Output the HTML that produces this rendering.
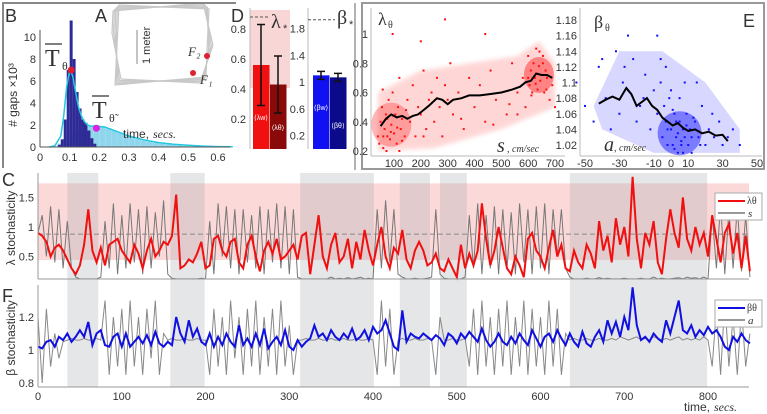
<!DOCTYPE html>
<html><head><meta charset="utf-8"><style>
html,body{margin:0;padding:0;background:#fff;}
svg{display:block;font-family:"Liberation Sans",sans-serif;}
text{fill:#333;}
.tk{font-size:11px;}
.ser{font-family:"Liberation Serif",serif;}
</style></head><body>
<svg id="fig" width="767" height="414" viewBox="0 0 767 414">
<g id="gB"></g>
<g id="gA"></g>
<g id="gD"></g>
<g id="gE"></g>
<g id="gC"></g>
<g id="gF"></g>
</svg>
<script>
// ---------- DATA ----------
const darkBins = [0.06,0.07,0.08,0.09,0.10,0.11,0.12,0.13,0.14,0.15,0.16,0.17,0.18];
const darkCounts = [0.2,0.7,2.5,7,11.5,8,5,3.5,2.5,2.2,1.5,0.8,0.3];
const lightBins = [0.04,0.06,0.08,0.10,0.12,0.14,0.16,0.18,0.20,0.22,0.24,0.26,0.28,0.30,0.32,0.34,0.36,0.38,0.40,0.42,0.44,0.46,0.48,0.50,0.52,0.54,0.56,0.58,0.60,0.62];
const lightCounts = [0.05,0.3,0.8,1.2,1.5,1.7,1.9,2.0,1.9,1.7,1.5,1.3,1.1,0.9,0.75,0.6,0.5,0.4,0.3,0.25,0.2,0.15,0.1,0.08,0.05,0.04,0.03,0.02,0.02,0.01];
const fitT = [0.03,0.05,0.07,0.08,0.09,0.10,0.11,0.12,0.13,0.14,0.15,0.16,0.17,0.19,0.22,0.26,0.30,0.35,0.40,0.45,0.50,0.55,0.60,0.65];
const fitV = [0,0.1,1,2.8,5.5,7,6.5,5,3.6,2.8,2.3,2.0,1.9,1.9,1.8,1.4,1.0,0.65,0.4,0.25,0.15,0.08,0.04,0.02];

const dLambdaLabels = ["⟨λ_w⟩","⟨λ_θ⟩"];
const dLambdaVals = [0.56,0.43];
const dLambdaErr = [0.27,0.19];
const dBetaVals = [1.1,1.07];
const dBetaErr = [0.06,0.06];
const lambdaStar = 0.88;
const betaStar = 1.93;

const redS = [40,45,50,55,60,65,70,75,80,85,90,95,100,105,110,115,120,125,130,140,150,160,170,180,190,200,210,220,230,240,250,260,270,280,290,300,310,320,340,360,380,400,420,440,460,480,500,520,540,560,580,590,600,605,610,615,620,625,630,635,640,645,650,655,660,665,670,680,690,700,95,200,290,440,120,60,75,88,130,145,58,72,98,112,600,612,628,642,655,668,350,470,530,560,210];
const redL = [0.3,0.25,0.4,0.5,0.22,0.35,0.45,0.3,0.55,0.28,0.38,0.6,0.32,0.45,0.25,0.5,0.7,0.35,0.42,0.3,0.55,0.4,0.65,0.3,0.5,0.45,0.75,0.35,0.55,0.6,0.4,0.7,0.5,0.3,0.65,0.55,0.8,0.45,0.6,0.35,0.7,0.5,0.65,0.4,0.75,0.55,0.6,0.45,0.8,0.6,0.7,0.5,0.85,0.65,0.75,0.6,0.8,0.7,0.9,0.62,0.78,0.68,0.72,0.85,0.6,0.75,0.7,0.55,0.65,0.5,1.0,0.95,1.1,1.0,0.2,0.3,0.42,0.33,0.27,0.48,0.62,0.2,0.44,0.36,0.7,0.58,0.66,0.88,0.8,0.62,0.42,0.38,0.52,0.45,0.3];
const trendS = [50,70,90,110,130,150,170,190,210,230,260,280,300,320,350,380,420,460,500,540,570,590,610,630,650,670,690];
const trendL = [0.37,0.42,0.45,0.43,0.44,0.42,0.44,0.45,0.48,0.51,0.56,0.55,0.52,0.55,0.56,0.58,0.58,0.59,0.6,0.62,0.64,0.67,0.68,0.73,0.72,0.72,0.7];

const blueA = [-55,-50,-45,-42,-38,-35,-32,-30,-28,-25,-22,-20,-18,-15,-12,-10,-8,-6,-5,-4,-3,-2,-1,0,1,2,3,4,5,6,7,8,9,10,11,12,14,16,18,20,22,25,28,30,33,36,40,-25,-8,15,0,-3,5,8,-40,-27,-16,-6,2,4,6,9,12,13,17,24,3,1,-2,7];
const blueB = [1.1,1.07,1.05,1.12,1.08,1.04,1.14,1.06,1.1,1.09,1.13,1.05,1.07,1.11,1.04,1.09,1.06,1.13,1.03,1.07,1.05,1.02,1.08,1.04,1.02,1.06,1.03,1.01,1.05,1.02,1.04,1.03,1.06,1.02,1.04,1.01,1.05,1.03,1.07,1.02,1.04,1.03,1.05,1.02,1.03,1.04,1.02,1.16,1.16,1.1,1.09,1.12,1.08,1.1,1.13,1.12,1.08,1.1,1.015,1.035,1.025,1.045,1.03,1.055,1.02,1.06,1.05,1.065,1.04,1.01];
const trendA = [-42,-38,-34,-30,-26,-23,-20,-17,-14,-11,-8,-5,-2,1,4,7,10,14,18,22,26,30,33];
const trendB = [1.073,1.078,1.082,1.078,1.093,1.085,1.07,1.075,1.08,1.07,1.065,1.055,1.05,1.045,1.048,1.042,1.038,1.04,1.035,1.037,1.032,1.033,1.025];

const timeStep = 5;
const lambdaSeries = [0.9,0.85,0.75,0.5,0.65,0.7,0.6,0.45,0.3,0.2,0.35,
0.7,1.3,0.6,0.4,0.65,0.35,0.7,0.75,0.8,0.6,
0.5,0.4,0.7,0.55,0.3,0.6,0.8,0.5,0.6,0.75,
0.7,0.85,1.55,0.3,0.35,0.45,0.4,0.55,0.75,0.3,
0.35,0.8,0.85,0.6,0.5,0.75,0.8,0.4,0.3,0.7,
0.85,0.5,0.25,0.6,0.75,0.55,0.8,0.45,0.5,0.6,
0.7,0.45,0.85,0.9,0.2,0.7,1.2,0.5,0.3,0.7,
0.9,0.4,0.5,0.8,0.3,0.75,0.45,0.95,0.6,0.35,
0.7,1.0,0.5,0.3,0.65,0.55,0.95,0.45,0.3,0.6,
0.75,0.6,0.35,0.4,0.55,0.3,0.25,0.45,0.3,0.15,
0.7,0.3,0.55,0.35,0.6,1.4,0.8,0.35,0.6,1.0,
0.65,0.3,0.2,0.5,0.35,0.15,0.8,0.9,0.6,0.5,
0.3,0.65,0.95,0.5,0.7,0.3,0.25,0.6,0.4,0.3,
0.7,0.55,0.3,1.1,0.6,0.85,0.4,1.15,0.7,1.0,
0.5,1.85,0.8,0.3,0.9,0.7,1.1,0.4,0.2,0.8,
1.3,0.9,0.65,1.5,0.8,0.6,1.0,0.7,0.9,0.5,
1.2,0.8,0.4,0.9,1.05,0.55,0.9,0.3,0.85,0.25];
const speedSeries = [0.9,1.2,0.5,1.35,0.4,1.3,0.3,1.1,0.3,0.15,0.12,
0.12,0.12,0.12,0.12,0.15,1.1,0.3,1.4,0.2,1.2,
0.3,1.4,0.4,1.3,0.2,1.35,0.3,1.25,0.5,1.45,
0.2,0.13,0.12,0.12,0.12,0.12,0.12,0.12,0.13,0.12,
1.1,0.2,1.4,0.5,1.35,0.3,1.3,0.2,1.3,0.4,
1.2,0.3,1.35,0.2,1.3,0.4,1.4,0.3,1.35,0.2,
1.3,0.15,0.12,0.12,0.12,0.12,0.12,0.12,0.12,0.15,
0.12,0.13,0.12,0.14,0.12,0.13,0.15,0.12,0.13,0.12,
1.3,0.3,1.45,0.4,1.3,0.2,0.15,0.12,0.12,0.13,
0.12,0.12,0.13,0.15,1.3,0.2,0.13,0.12,0.12,0.12,
0.12,0.15,1.2,0.3,1.4,0.2,1.2,0.3,1.35,0.2,
1.3,0.3,1.25,0.2,1.4,0.4,1.3,0.2,1.35,0.3,
1.4,0.2,1.3,0.5,1.3,0.3,0.15,0.12,0.12,0.12,
0.13,0.12,0.12,0.14,0.12,0.13,0.12,0.12,0.12,0.13,
0.12,0.12,0.12,0.13,0.12,0.12,0.15,0.12,0.13,0.12,
0.12,0.13,0.14,0.12,0.15,0.13,0.14,0.12,0.15,0.12,
1.2,0.3,1.4,0.2,1.3,0.3,1.35,0.25,1.2,0.15];
const betaSeries = [1.02,1.01,1.05,1.06,1.02,1.08,1.06,1.1,1.05,1.08,1.12,
1.08,1.17,1.03,1.1,1.12,1.03,1.02,1.08,1.1,1.02,
1.1,1.02,1.05,1.08,1.04,1.09,1.03,1.11,1.04,1.02,
1.05,1.03,1.2,1.1,1.05,1.18,1.08,1.13,1.05,1.03,
1.1,1.02,1.08,1.03,1.1,1.05,1.02,1.15,1.03,1.07,
1.02,1.1,1.03,1.13,1.01,1.05,1.08,1.03,1.12,1.02,
1.0,1.06,1.02,1.05,1.07,1.15,1.08,1.1,1.06,1.12,
1.08,1.06,1.1,1.07,1.13,1.06,1.08,1.12,1.06,1.14,
1.1,1.12,1.18,1.1,1.02,1.0,1.24,1.05,1.1,1.08,
1.07,1.1,1.08,1.06,1.09,1.07,1.03,1.1,1.08,1.04,
1.1,1.07,1.11,1.08,1.05,1.13,1.06,1.02,1.05,1.1,
1.05,1.03,1.08,1.04,1.1,1.06,1.03,1.12,1.07,1.02,
1.08,1.1,1.05,1.12,1.07,1.03,1.1,1.05,1.02,1.11,
1.04,1.02,1.08,1.12,1.05,1.18,1.1,1.17,1.08,1.2,
1.12,1.38,1.15,1.06,1.08,1.05,1.1,1.07,1.05,1.18,
1.1,1.2,1.3,1.12,1.1,1.15,1.08,1.12,1.09,1.14,
1.1,1.12,1.08,1.02,1.0,1.08,1.05,1.1,1.06,1.04];
const accelSeries = [1.2,0.8,1.25,0.9,1.1,0.95,1.05,1.06,1.07,1.06,1.06,
1.07,1.06,1.06,1.07,1.06,1.3,0.85,1.2,0.9,1.25,
0.85,1.3,0.9,1.2,0.85,1.25,0.95,1.3,0.85,1.1,
1.06,1.07,1.06,1.06,1.07,1.06,1.06,1.07,1.06,1.06,
0.85,1.25,0.9,1.2,0.85,1.3,0.95,1.2,0.85,1.25,
0.9,1.3,0.85,1.2,0.9,1.25,0.85,1.3,0.9,1.15,
0.85,1.06,1.06,1.07,1.06,1.06,1.07,1.06,1.06,1.07,
1.06,1.06,1.07,1.06,1.06,1.07,1.06,1.06,1.07,1.06,
0.85,1.3,0.9,1.25,0.85,1.06,1.07,1.06,1.06,1.07,
1.06,1.06,1.07,1.06,0.85,1.2,1.06,1.06,1.07,1.06,
1.06,1.07,0.9,1.25,0.85,1.3,0.9,1.2,0.85,1.25,
0.9,1.3,0.85,1.2,0.9,1.3,0.85,1.25,0.9,1.2,
0.85,1.3,0.9,1.25,0.85,1.1,1.06,1.07,1.06,1.06,
1.07,1.06,1.06,1.07,1.06,1.06,1.07,1.06,1.08,1.07,
1.06,1.07,1.08,1.06,1.07,1.06,1.08,1.07,1.06,1.07,
1.06,1.07,1.08,1.06,1.07,1.06,1.07,1.06,1.08,1.06,
0.9,1.25,0.85,1.3,0.9,1.2,0.85,1.25,0.9,1.1];
const shadeStart = [35,158,313,432,480,635];
const shadeEnd = [72,199,401,468,512,799];
const timeTicks = [0,100,200,300,400,500,600,700,800];

// ---------- HELPERS ----------
const NS="http://www.w3.org/2000/svg";
function mk(parent,tag,attrs,txt){const e=document.createElementNS(NS,tag);for(const k in attrs)e.setAttribute(k,attrs[k]);if(txt!==undefined)e.textContent=txt;parent.appendChild(e);return e;}
function lin(d0,d1,r0,r1){return v=>r0+(v-d0)*(r1-r0)/(d1-d0);}
function pathOf(xs,ys,fx,fy){return xs.map((x,i)=>(i?'L':'M')+fx(x).toFixed(1)+' '+fy(ys[i]).toFixed(1)).join(' ');}
const fig=document.getElementById('fig');

// ---------- LEFT BORDER ----------
let e=mk(fig,'path',{d:'M3 168 L3 3 L236 3',fill:'none',stroke:'#888','stroke-width':2});



// ---------- PANEL B ----------
const gB=document.getElementById('gB');
const bx=lin(0,0.6,40,218), by=lin(0,10,147,37);
lightBins.forEach((b,i)=>{
  e=mk(gB,'rect',{x:bx(b),y:by(lightCounts[i]),width:bx(0.02)-bx(0),height:by(0)-by(lightCounts[i]),fill:'#8fd6ec',stroke:'#aee3f2','stroke-width':0.3});
  
  
});
darkBins.forEach((b,i)=>{
  e=mk(gB,'rect',{x:bx(b),y:by(darkCounts[i]),width:bx(0.01)-bx(0),height:by(0)-by(darkCounts[i]),fill:'#2e2a96'});
  
  
});
e=mk(gB,'path',{d:pathOf(fitT,fitV,bx,by),fill:'none',stroke:'#22c8e0','stroke-width':1.5});


e=mk(gB,'line',{x1:40,y1:147,x2:230,y2:147,stroke:'#555'});


e=mk(gB,'line',{x1:40,y1:147,x2:40,y2:30,stroke:'#555'});


[0,0.1,0.2,0.3,0.4,0.5,0.6].forEach(v=>{
  e=mk(gB,'text',{x:bx(v),y:161,'text-anchor':'middle',class:'tk'},String(v));
  
  
});
[0,2,4,6,8,10].forEach(v=>{
  e=mk(gB,'text',{x:36,y:by(v)+4,'text-anchor':'end',class:'tk'},String(v));
  
  
});
e=mk(gB,'text',{x:0,y:0,transform:'translate(17,95) rotate(-90)','text-anchor':'middle','font-size':12},'# gaps ×10³');


e=mk(gB,'text',{x:123,y:138,'font-size':12},'time, ');


e=mk(gB,'text',{x:153,y:138,'font-size':12,'font-style':'italic',class:'ser'},'secs.');


e=mk(gB,'circle',{cx:bx(0.105),cy:by(7),r:3.5,fill:'#e02030'});


e=mk(gB,'circle',{cx:bx(0.19),cy:by(1.7),r:3.5,fill:'#e020e0'});


e=mk(gB,'text',{x:45,y:66,'font-size':24,class:'ser'},'T');


mk(gB,'line',{x1:45,y1:44,x2:62,y2:44,stroke:'#333','stroke-width':1.3});
mk(gB,'text',{x:62,y:70,'font-size':12,class:'ser'},'θ');
e=mk(gB,'text',{x:92,y:118,'font-size':24,class:'ser'},'T');


mk(gB,'line',{x1:92,y1:96,x2:109,y2:96,stroke:'#333','stroke-width':1.3});
mk(gB,'text',{x:109,y:122,'font-size':12,class:'ser'},'θ̃');
e=mk(gB,'text',{x:5,y:22,'font-size':18},'B');



// ---------- PANEL A ----------
const gA=document.getElementById('gA');
for(let k=0;k<5;k++){
  const o=k*1.5-3;
  e=mk(gA,'path',{d:`M${116+o} ${8-o} L${206+o} ${6+o} L${210-o} ${48+o} L${203+o} ${80-o} L${118-o} ${82+o} L${115+o} ${30-o} Z`,fill:'none',stroke:'#c8c8c8','stroke-width':1.2});
  
  
}
e=mk(gA,'line',{x1:137,y1:30,x2:137,y2:64,stroke:'#888'});


e=mk(gA,'text',{x:0,y:0,transform:'translate(150,64) rotate(-90)','font-size':11},'1 meter');


e=mk(gA,'text',{x:95,y:22,'font-size':18},'A');


e=mk(gA,'circle',{cx:207,cy:56,r:3,fill:'#e02030'});


e=mk(gA,'circle',{cx:193,cy:73,r:3,fill:'#e02030'});


mk(gA,'text',{x:188,y:56,'font-size':13,'font-style':'italic',class:'ser'},'F₂');
mk(gA,'text',{x:200,y:84,'font-size':13,'font-style':'italic',class:'ser'},'F₁');

// ---------- PANEL D ----------
const gD=document.getElementById('gD');
const dy1=lin(0,0.8,149,29), dy2=lin(0,1.8,149,28.5);
e=mk(gD,'rect',{x:250,y:10,width:40,height:78,fill:'#f9d6d6'});


const lamCols=['#f01010','#8a0a0a'], betCols=['#1010f0','#0a0a8a'];
dLambdaVals.forEach((v,i)=>{
  const x=253+i*17;
  e=mk(gD,'rect',{x:x,y:dy1(v),width:16.5,height:dy1(0)-dy1(v),fill:lamCols[i]});
  
  
  const cx=x+8;
  e=mk(gD,'path',{d:`M${cx} ${dy1(v+dLambdaErr[i])} L${cx} ${dy1(v-dLambdaErr[i])} M${cx-4} ${dy1(v+dLambdaErr[i])} L${cx+4} ${dy1(v+dLambdaErr[i])} M${cx-4} ${dy1(v-dLambdaErr[i])} L${cx+4} ${dy1(v-dLambdaErr[i])}`,stroke:'#111','stroke-width':1.5,fill:'none'});
  
  
});
mk(gD,'text',{x:261,y:120,'font-size':7,'text-anchor':'middle',style:'fill:#fff'},'⟨λw⟩');
mk(gD,'text',{x:278,y:130,'font-size':7,'text-anchor':'middle',style:'fill:#fff'},'⟨λθ⟩');
dBetaVals.forEach((v,i)=>{
  const x=313+i*17;
  e=mk(gD,'rect',{x:x,y:dy2(v),width:16.5,height:dy2(0)-dy2(v),fill:betCols[i]});
  
  
  const cx=x+8;
  e=mk(gD,'path',{d:`M${cx} ${dy2(v+dBetaErr[i])} L${cx} ${dy2(v-dBetaErr[i])} M${cx-4} ${dy2(v+dBetaErr[i])} L${cx+4} ${dy2(v+dBetaErr[i])} M${cx-4} ${dy2(v-dBetaErr[i])} L${cx+4} ${dy2(v-dBetaErr[i])}`,stroke:'#111','stroke-width':1.5,fill:'none'});
  
  
});
mk(gD,'text',{x:321,y:110,'font-size':7,'text-anchor':'middle',style:'fill:#fff'},'⟨βw⟩');
mk(gD,'text',{x:338,y:128,'font-size':7,'text-anchor':'middle',style:'fill:#fff'},'⟨βθ⟩');
mk(gD,'line',{x1:250,y1:8,x2:250,y2:149,stroke:'#bbb'});
mk(gD,'line',{x1:308,y1:8,x2:308,y2:149,stroke:'#bbb'});
mk(gD,'line',{x1:355,y1:3,x2:355,y2:170,stroke:'#999','stroke-width':1.5});
[0.2,0.4,0.6,0.8].forEach(v=>{e=mk(gD,'text',{x:246,y:dy1(v)+4,'text-anchor':'end',class:'tk'},String(v));
  
  });
[0.2,0.6,1,1.4,1.8].forEach(v=>{e=mk(gD,'text',{x:305,y:dy2(v)+4,'text-anchor':'end',class:'tk'},String(v));
  
  });
e=mk(gD,'line',{x1:250,y1:dy1(lambdaStar),x2:270,y2:dy1(lambdaStar),stroke:'#555','stroke-dasharray':'3,2'});


mk(gD,'text',{x:271,y:28,'font-size':20,class:'ser'},'λ');
mk(gD,'text',{x:283,y:32,'font-size':11},'*');
e=mk(gD,'line',{x1:308,y1:dy2(betaStar),x2:335,y2:dy2(betaStar),stroke:'#555','stroke-dasharray':'3,2'});


mk(gD,'text',{x:337,y:24,'font-size':20,class:'ser'},'β');
mk(gD,'text',{x:349,y:28,'font-size':11},'*');
e=mk(gD,'text',{x:231,y:22,'font-size':18},'D');



// ---------- PANEL E ----------
const gE=document.getElementById('gE');
e=mk(gE,'rect',{x:362,y:3,width:402,height:166,fill:'#fff',stroke:'#999','stroke-width':2});


const ex1=lin(100,700,394,555), ey1=lin(0.2,1.0,151,34);
const ex2=lin(-50,50,585,757), ey2=lin(1.02,1.18,145,20);
mk(gE,'path',{d:`M${ex1(40)} ${ey1(0.2)} L${ex1(40)} ${ey1(0.6)} L${ex1(200)} ${ey1(0.75)} L${ex1(560)} ${ey1(0.85)} L${ex1(640)} ${ey1(0.95)} L${ex1(700)} ${ey1(0.8)} L${ex1(700)} ${ey1(0.5)} L${ex1(500)} ${ey1(0.35)} L${ex1(250)} ${ey1(0.22)} Z`,fill:'#ff7070',opacity:0.28,filter:'blur(2px)'});
mk(gE,'ellipse',{cx:ex1(640),cy:ey1(0.72),rx:15,ry:18,fill:'#ff2020',opacity:0.45});
mk(gE,'ellipse',{cx:ex1(90),cy:ey1(0.38),rx:20,ry:22,fill:'#ff3030',opacity:0.35});
mk(gE,'path',{d:`M${ex2(-45)} ${ey2(1.07)} L${ex2(-30)} ${ey2(1.14)} L${ex2(-5)} ${ey2(1.14)} L${ex2(20)} ${ey2(1.1)} L${ex2(40)} ${ey2(1.04)} L${ex2(40)} ${ey2(1.01)} L${ex2(-10)} ${ey2(1.01)} L${ex2(-40)} ${ey2(1.04)} Z`,fill:'#7070ff',opacity:0.28});
mk(gE,'ellipse',{cx:ex2(5),cy:ey2(1.035),rx:22,ry:22,fill:'#2020ff',opacity:0.5});
redS.forEach((s,i)=>{e=mk(gE,'rect',{x:ex1(s)-1,y:ey1(redL[i])-1,width:2,height:2,fill:'#ff1010'});
  
  });
blueA.forEach((a,i)=>{e=mk(gE,'rect',{x:ex2(a)-1,y:ey2(blueB[i])-1,width:2,height:2,fill:'#1010ff'});
  
  });
e=mk(gE,'path',{d:pathOf(trendS,trendL,ex1,ey1),fill:'none',stroke:'#000','stroke-width':2});


e=mk(gE,'path',{d:pathOf(trendA,trendB,ex2,ey2),fill:'none',stroke:'#000','stroke-width':2});


mk(gE,'line',{x1:371,y1:8,x2:371,y2:156,stroke:'#bbb'});
mk(gE,'line',{x1:371,y1:156,x2:565,y2:156,stroke:'#bbb'});
mk(gE,'line',{x1:580,y1:8,x2:580,y2:156,stroke:'#bbb'});
mk(gE,'line',{x1:580,y1:156,x2:762,y2:156,stroke:'#bbb'});
[0.2,0.4,0.6,0.8,1].forEach(v=>{e=mk(gE,'text',{x:368,y:ey1(v)+4,'text-anchor':'end',class:'tk'},String(v));
  
  });
[100,200,300,400,500,600,700].forEach(v=>{e=mk(gE,'text',{x:ex1(v),y:167,'text-anchor':'middle',class:'tk'},String(v));
  
  });
[1.02,1.04,1.06,1.08,1.1,1.12,1.14,1.16,1.18].forEach(v=>{e=mk(gE,'text',{x:577,y:ey2(v)+4,'text-anchor':'end',class:'tk'},String(v));
  
  });
[-50,-30,-10,0,10,30,50].forEach(v=>{e=mk(gE,'text',{x:ex2(v),y:167,'text-anchor':'middle',class:'tk'},String(v));
  
  });
mk(gE,'text',{x:378,y:25,'font-size':18,class:'ser'},'λ');
mk(gE,'text',{x:388,y:28,'font-size':10,class:'ser'},'θ');
mk(gE,'text',{x:594,y:28,'font-size':18,class:'ser'},'β');
mk(gE,'text',{x:605,y:31,'font-size':10,class:'ser'},'θ');
mk(gE,'text',{x:497,y:152,'font-size':20,'font-style':'italic',class:'ser'},'s');
mk(gE,'text',{x:507,y:152,'font-size':10,'font-style':'italic',class:'ser'},', cm/sec');
mk(gE,'text',{x:604,y:151,'font-size':20,'font-style':'italic',class:'ser'},'a');
mk(gE,'text',{x:614,y:151,'font-size':10,'font-style':'italic',class:'ser'},', cm/sec');
e=mk(gE,'text',{x:743,y:27,'font-size':18},'E');



// ---------- PANELS C & F ----------
const tx=lin(0,800,38,708);
const times=lambdaSeries.map((_,i)=>i*timeStep);
const cy=lin(1,0.5,227,256.5), fy=lin(1,1.2,350,317);
const gC=document.getElementById('gC'), gF=document.getElementById('gF');
e=mk(gC,'rect',{x:38,y:cy(1.74),width:711,height:cy(0.44)-cy(1.74),fill:'#fbd9d9'});


shadeStart.forEach((s,i)=>{
  e=mk(gC,'rect',{x:tx(s),y:173,width:tx(shadeEnd[i])-tx(s),height:214,fill:'#a8acb4',opacity:0.3});
  
  
});
e=mk(gC,'line',{x1:38,y1:cy(0.88),x2:749,y2:cy(0.88),stroke:'#888','stroke-dasharray':'5,3'});


e=mk(gC,'path',{d:pathOf(times,speedSeries,tx,cy),fill:'none',stroke:'#777','stroke-width':1});


e=mk(gC,'path',{d:pathOf(times,lambdaSeries,tx,cy),fill:'none',stroke:'#f01010','stroke-width':2});


mk(gC,'line',{x1:38,y1:173,x2:38,y2:279,stroke:'#999'});
mk(gC,'line',{x1:38,y1:279,x2:749,y2:279,stroke:'#999'});
[0.5,1,1.5].forEach(v=>{e=mk(gC,'text',{x:34,y:cy(v)+4,'text-anchor':'end',class:'tk'},String(v));
  
  });
e=mk(gC,'text',{x:0,y:0,transform:'translate(15,228) rotate(-90)','text-anchor':'middle','font-size':12},'λ stochasticity');


e=mk(gC,'text',{x:2,y:186,'font-size':18},'C');


e=mk(gC,'rect',{x:715,y:193,width:47,height:27,fill:'#fff',stroke:'#aaa'});


mk(gC,'line',{x1:718,y1:201,x2:745,y2:201,stroke:'#f01010','stroke-width':2});
mk(gC,'text',{x:747,y:204,'font-size':10,class:'ser'},'λθ');
mk(gC,'line',{x1:718,y1:213,x2:745,y2:213,stroke:'#777','stroke-width':1.5});
mk(gC,'text',{x:748,y:217,'font-size':11,'font-style':'italic',class:'ser'},'s');

e=mk(gF,'path',{d:pathOf(times,accelSeries,tx,fy),fill:'none',stroke:'#888','stroke-width':1});


e=mk(gF,'path',{d:pathOf(times,betaSeries,tx,fy),fill:'none',stroke:'#1010e0','stroke-width':2});


mk(gF,'line',{x1:38,y1:285,x2:38,y2:387,stroke:'#999'});
mk(gF,'line',{x1:38,y1:387,x2:749,y2:387,stroke:'#999'});
[0.8,1,1.2].forEach(v=>{e=mk(gF,'text',{x:34,y:fy(v)+4,'text-anchor':'end',class:'tk'},String(v));
  
  });
timeTicks.forEach(v=>{e=mk(gF,'text',{x:tx(v),y:400,'text-anchor':'middle',class:'tk'},String(v));
  
  });
e=mk(gF,'text',{x:0,y:0,transform:'translate(15,338) rotate(-90)','text-anchor':'middle','font-size':12},'β stochasticity');


e=mk(gF,'text',{x:2,y:302,'font-size':18},'F');


e=mk(gF,'text',{x:684,y:411,'font-size':12},'time, ');


mk(gF,'text',{x:714,y:411,'font-size':12,'font-style':'italic',class:'ser'},'secs.');
e=mk(gF,'rect',{x:715,y:300,width:47,height:27,fill:'#fff',stroke:'#aaa'});


mk(gF,'line',{x1:718,y1:308,x2:745,y2:308,stroke:'#1010e0','stroke-width':2});
mk(gF,'text',{x:747,y:311,'font-size':10,class:'ser'},'βθ');
mk(gF,'line',{x1:718,y1:320,x2:745,y2:320,stroke:'#777','stroke-width':1.5});
mk(gF,'text',{x:748,y:324,'font-size':11,'font-style':'italic',class:'ser'},'a');
</script>
</body></html>
